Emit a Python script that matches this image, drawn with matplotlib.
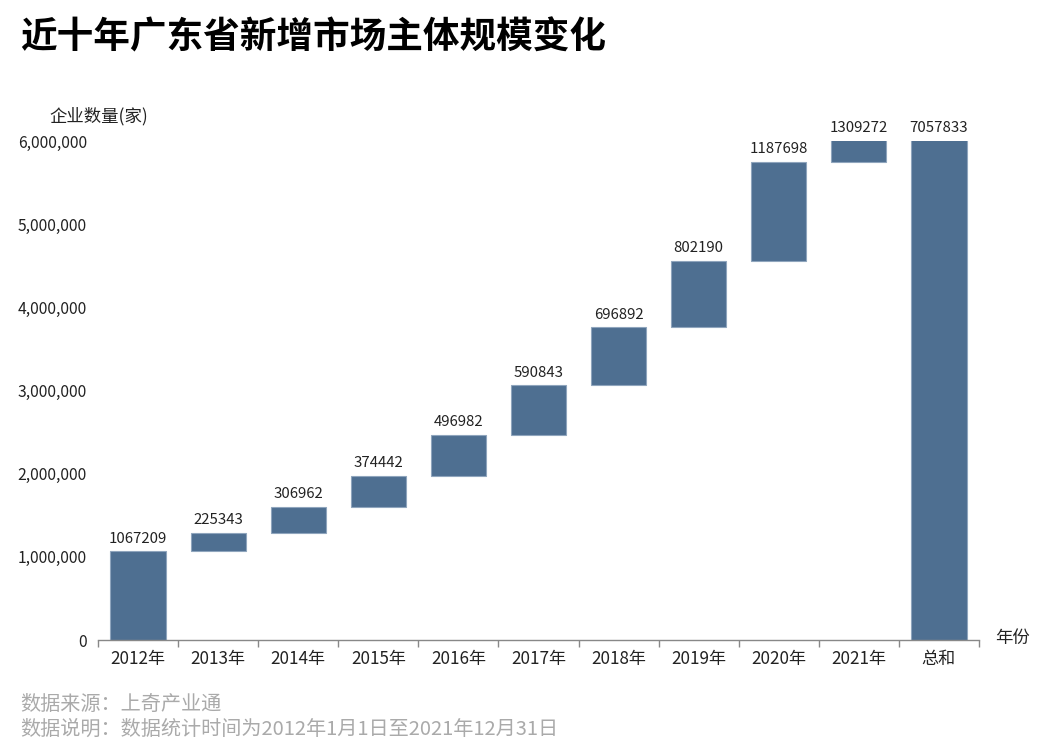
import matplotlib
matplotlib.use("Agg")
import matplotlib.pyplot as plt
from matplotlib.ticker import FuncFormatter, FixedLocator
import numpy as np

plt.rcParams['font.family'] = ['Noto Sans CJK SC', 'DejaVu Sans']

categories = ["2012年", "2013年", "2014年", "2015年", "2016年", "2017年",
              "2018年", "2019年", "2020年", "2021年", "总和"]
increments = [1067209, 225343, 306962, 374442, 496982, 590843,
              696892, 802190, 1187698, 1309272]
total = 7057833
yticks = [0, 1000000, 2000000, 3000000, 4000000, 5000000, 6000000]

values = increments + [total]
bottoms = list(np.concatenate([[0], np.cumsum(increments)[:-1]])) + [0]
ymax = 6000000

fig = plt.figure(figsize=(10.45, 7.49), dpi=100)
ax = fig.add_axes([0.0938, 0.1455, 0.843, 0.6662])

x = np.arange(len(categories))
color = "#4e6f91"
ax.bar(x, values, bottom=bottoms, width=0.69, color=color,
       edgecolor="#8fa5bd", linewidth=0.8, zorder=2)

for xi, b, v in zip(x, bottoms, values):
    top = min(b + v, ymax)
    ax.annotate(str(v), (xi, top), xytext=(0, 4), textcoords="offset points",
                ha="center", va="bottom", fontsize=10.8, color="#222222",
                annotation_clip=False)

ax.set_xlim(-0.5, len(categories) - 0.5)
ax.set_ylim(0, ymax)
ax.set_yticks(yticks)
ax.yaxis.set_major_formatter(FuncFormatter(lambda v, p: f"{int(v):,}"))
ax.tick_params(axis="y", length=0, pad=8, labelsize=11.3, labelcolor="#222222")

ax.set_xticks(x)
ax.set_xticklabels(categories)
ax.tick_params(axis="x", which="major", length=0, pad=7, labelsize=12.3,
               labelcolor="#222222")
ax.xaxis.set_minor_locator(FixedLocator(np.arange(-0.5, len(categories), 1.0)))
ax.tick_params(axis="x", which="minor", length=5, width=1, color="#888888")

for s in ["top", "right", "left"]:
    ax.spines[s].set_visible(False)
ax.spines["bottom"].set_color("#888888")
ax.spines["bottom"].set_linewidth(1)

fig.text(99 / 1045, 1 - 116 / 749, "企业数量(家)", ha="center", va="center",
         fontsize=12.5, color="#222222")
fig.text(1012 / 1045, 1 - 638 / 749, "年份", ha="center", va="center",
         fontsize=12.5, color="#222222")

fig.text(20 / 1045, 1 - 38 / 749, "近十年广东省新增市场主体规模变化",
         ha="left", va="center", fontsize=26.4, fontweight="bold", color="black")

fig.text(20 / 1045, 1 - 704 / 749, "数据来源：上奇产业通", ha="left",
         va="center", fontsize=14.5, color="#aaaaaa")
fig.text(20 / 1045, 1 - 729 / 749, "数据说明：数据统计时间为2012年1月1日至2021年12月31日",
         ha="left", va="center", fontsize=14.5, color="#aaaaaa")

fig.savefig("out.png", dpi=100)
